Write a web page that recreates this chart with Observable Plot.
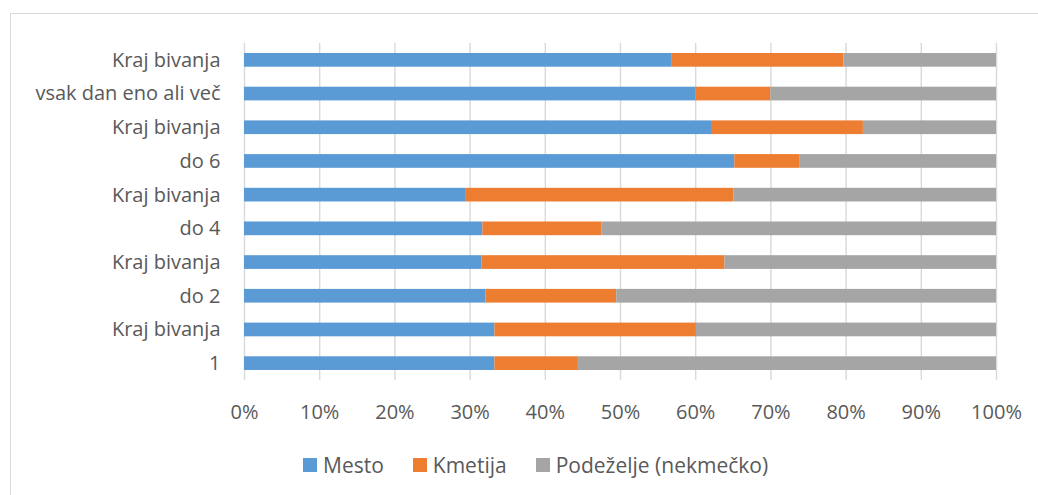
<!DOCTYPE html>
<html>
<head>
<meta charset="utf-8">
<script src="https://cdn.jsdelivr.net/npm/d3@7"></script>
<script src="https://cdn.jsdelivr.net/npm/@observablehq/plot@0.6"></script>
<style>
  body { margin: 0; background: #fff; }
  #wrap { position: relative; width: 1038px; height: 495px; overflow: hidden; font-family: "Open Sans", sans-serif; color: #595959; }
  #frame { position: absolute; left: 10px; top: 13px; width: 1100px; height: 600px; border: 1.5px solid #d9d9d9; box-sizing: border-box; }
  #chart { position: absolute; left: 0; top: 0; }
  #legend { position: absolute; left: 303px; top: 451px; height: 28px; display: flex; align-items: center; font-size: 21px; white-space: nowrap; }
  .item { display: flex; align-items: center; margin-right: 29px; }
  .sw { width: 14px; height: 14px; margin-right: 6px; }
</style>
</head>
<body>
<div id="wrap">
  <div id="frame"></div>
  <div id="chart"></div>
  <div id="legend"></div>
</div>
<script>
const categories = ["Kraj bivanja", "vsak dan eno ali več", "Kraj bivanja", "do 6", "Kraj bivanja", "do 4", "Kraj bivanja", "do 2", "Kraj bivanja", "1"];
const seriesNames = ["Mesto", "Kmetija", "Podeželje (nekmečko)"];
const seriesColors = ["#5B9BD5", "#ED7D31", "#A5A5A5"];
const mesto     = [56.8, 60.0, 62.1, 65.2, 29.5, 31.7, 31.6, 32.1, 33.3, 33.3];
const kmetija   = [22.9, 10.0, 20.2,  8.7, 35.6, 15.8, 32.3, 17.4, 26.8, 11.1];
const podezelje = [20.3, 30.0, 17.7, 26.1, 34.9, 52.5, 36.1, 50.5, 39.9, 55.6];
const xTicks = [0, 10, 20, 30, 40, 50, 60, 70, 80, 90, 100];

const seriesValues = [mesto, kmetija, podezelje];
const data = [];
categories.forEach((c, i) => {
  seriesNames.forEach((s, j) => {
    data.push({row: i, series: s, value: seriesValues[j][i]});
  });
});

const chart = Plot.plot({
  width: 1038,
  height: 430,
  marginLeft: 244,
  marginRight: 42,
  marginTop: 43,
  marginBottom: 50,
  style: {fontFamily: "Open Sans, sans-serif", fontSize: "20px", color: "#595959", background: "transparent", overflow: "visible"},
  x: {domain: [0, 100], ticks: xTicks, tickFormat: d => d + "%", label: null, tickSize: 0, tickPadding: 24},
  y: {domain: d3.range(categories.length), tickFormat: i => categories[i], padding: 0, round: false, label: null, tickSize: 0, tickPadding: 24},
  color: {domain: seriesNames, range: seriesColors},
  marks: [
    Plot.gridX(xTicks, {stroke: "#d9d9d9", strokeOpacity: 1, strokeWidth: 1.4}),
    Plot.barX(data, Plot.stackX({y: "row", x: "value", fill: "series", insetTop: 10, insetBottom: 10}))
  ]
});
document.getElementById("chart").appendChild(chart);

const legend = document.getElementById("legend");
seriesNames.forEach((s, j) => {
  const it = document.createElement("div");
  it.className = "item";
  const sw = document.createElement("div");
  sw.className = "sw";
  sw.style.background = seriesColors[j];
  const tx = document.createElement("span");
  tx.textContent = s;
  it.appendChild(sw); it.appendChild(tx);
  legend.appendChild(it);
});
</script>
</body>
</html>
